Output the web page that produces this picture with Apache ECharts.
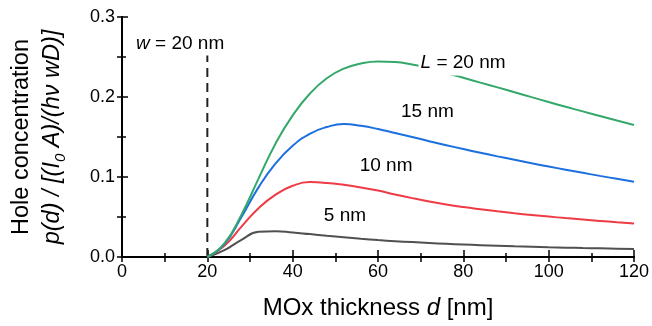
<!DOCTYPE html>
<html>
<head>
<meta charset="utf-8">
<script src="https://cdn.jsdelivr.net/npm/echarts@6/dist/echarts.min.js"></script>
<style>
  html, body { margin: 0; padding: 0; background: #ffffff; }
  #chart { width: 652px; height: 326px; }
</style>
</head>
<body>
<div id="chart"></div>
<script>
// MOx layer thickness d [nm]
const thickness = [20, 24, 28, 32, 36, 40, 44, 48, 52, 56, 60, 64, 68, 72, 76, 80, 84, 88, 92, 96, 100, 104, 108, 112, 116, 120];

// normalised hole concentration for each diffusion length L
const holeL20 = [0, 0.017, 0.053, 0.098, 0.142, 0.177, 0.204, 0.2235, 0.2355, 0.2420, 0.2445, 0.2438, 0.2405, 0.2357, 0.2300, 0.2240, 0.2180, 0.2120, 0.2060, 0.1998, 0.1937, 0.1878, 0.1820, 0.1763, 0.1706, 0.1650];
const holeL15 = [0, 0.016, 0.050, 0.087, 0.117, 0.139, 0.154, 0.1625, 0.1663, 0.1640, 0.1600, 0.1550, 0.1500, 0.1448, 0.1398, 0.1350, 0.1303, 0.1258, 0.1215, 0.1172, 0.1131, 0.1091, 0.1052, 0.1014, 0.0977, 0.0940];
const holeL10 = [0, 0.014, 0.038, 0.061, 0.078, 0.0890, 0.0936, 0.0926, 0.0902, 0.0870, 0.0830, 0.0782, 0.0736, 0.0694, 0.0657, 0.0625, 0.0597, 0.0571, 0.0547, 0.0525, 0.0505, 0.0486, 0.0468, 0.0451, 0.0435, 0.0420];
const holeL5  = [0, 0.0085, 0.0215, 0.0315, 0.0323, 0.0307, 0.0286, 0.0265, 0.0246, 0.0228, 0.0212, 0.0198, 0.0186, 0.0175, 0.0165, 0.0156, 0.0148, 0.0141, 0.0134, 0.0128, 0.0122, 0.0117, 0.0112, 0.0108, 0.0104, 0.0100];

// depletion width marker
const depletionWidth = 20;
const depletionTop = 0.252;

// curve labels: [d, value] anchor of each text
const curveLabelAt = {
  L20: [69.5, 0.242],
  L15: [65.4, 0.181],
  L10: [55.7, 0.1146],
  L5:  [47.3, 0.0521],
  w:   [3.3, 0.2668]
};

const FONT = '"Liberation Sans", Arial, Helvetica, sans-serif';
const pair = (ys) => thickness.map((d, i) => [d, ys[i]]);

function tag(coord, text, extra) {
  return {
    symbol: 'circle',
    symbolSize: 0,
    itemStyle: { color: 'rgba(0,0,0,0)' },
    data: [{ coord: coord }],
    silent: true,
    label: Object.assign({
      show: true,
      position: 'right',
      distance: 0,
      formatter: text,
      color: '#000',
      fontSize: 19,
      fontFamily: FONT,
      rich: {
        it: { fontStyle: 'italic', fontSize: 19, fontFamily: FONT, color: '#000' }
      }
    }, extra || {})
  };
}

function curve(name, ys, color, mark) {
  return {
    name: name,
    type: 'line',
    data: pair(ys),
    showSymbol: false,
    smooth: 0.5,
    lineStyle: { color: color, width: 2 },
    itemStyle: { color: color },
    markPoint: mark,
    z: 3
  };
}

const chart = echarts.init(document.getElementById('chart'), null, { renderer: 'canvas' });

const axisLine = { show: true, lineStyle: { color: '#000', width: 2 } };

chart.setOption({
  animation: false,
  backgroundColor: '#ffffff',
  grid: { left: 122, right: 18, top: 17, bottom: 69, containLabel: false, outerBoundsMode: 'none' },
  xAxis: [
    {
      type: 'value', min: 0, max: 120, interval: 20,
      position: 'bottom',
      axisLine: axisLine,
      axisTick: { inside: true, length: 7, lineStyle: { color: '#000', width: 1.5 } },
      minorTick: { show: true, splitNumber: 2, length: 4, lineStyle: { color: '#000', width: 1.5 } },
      splitLine: { show: false },
      axisLabel: { color: '#000', fontSize: 18, fontFamily: FONT, margin: 6 },
      name: '{n|MOx thickness }{i|d}{n| [nm]}',
      nameLocation: 'middle',
      nameGap: 39,
      nameTextStyle: {
        rich: {
          n: { fontSize: 24, fontFamily: FONT, color: '#000' },
          i: { fontSize: 24, fontFamily: FONT, color: '#000', fontStyle: 'italic' }
        }
      }
    },
    {
      type: 'value', min: 0, max: 120, interval: 10,
      position: 'top',
      axisLine: axisLine,
      axisTick: { inside: true, length: 5, lineStyle: { color: '#000', width: 1.5 } },
      axisLabel: { show: false },
      splitLine: { show: false }
    }
  ],
  yAxis: [
    {
      type: 'value', min: 0, max: 0.3, interval: 0.1,
      position: 'left',
      axisLine: axisLine,
      axisTick: { inside: true, length: 6, lineStyle: { color: '#000', width: 1.5 } },
      minorTick: { show: true, splitNumber: 2, length: 4, lineStyle: { color: '#000', width: 1.5 } },
      splitLine: { show: false },
      axisLabel: {
        color: '#000', fontSize: 18, fontFamily: FONT, margin: 7,
        formatter: (v) => v.toFixed(1)
      },
      name: '{a|Hole concentration}\n{i|p(d) / [(I}{s|0}{i| A)/(hν wD)]}',
      nameLocation: 'middle',
      nameRotate: 90,
      nameGap: 54,
      nameTextStyle: {
        lineHeight: 31,
        rich: {
          a: { fontSize: 23.5, fontFamily: FONT, color: '#000', lineHeight: 31 },
          i: { fontSize: 23.5, fontFamily: FONT, color: '#000', fontStyle: 'italic', lineHeight: 31 },
          s: { fontSize: 15, fontFamily: FONT, color: '#000', fontStyle: 'italic', lineHeight: 15, verticalAlign: 'bottom' }
        }
      }
    },
    {
      type: 'value', min: 0, max: 0.3, interval: 0.05,
      position: 'right',
      axisLine: axisLine,
      axisTick: { inside: true, length: 5, lineStyle: { color: '#000', width: 1.5 } },
      axisLabel: { show: false },
      splitLine: { show: false }
    }
  ],
  series: [
    {
      name: 'w',
      type: 'line',
      data: [[depletionWidth, 0], [depletionWidth, depletionTop]],
      showSymbol: false,
      lineStyle: { color: '#222', width: 2, type: [9, 6] },
      markPoint: tag(curveLabelAt.w, '{it|w} = 20 nm'),
      z: 2
    },
    curve('L = 5 nm', holeL5, '#505050', tag(curveLabelAt.L5, '5 nm')),
    curve('L = 10 nm', holeL10, '#ee3b45', tag(curveLabelAt.L10, '10 nm')),
    curve('L = 15 nm', holeL15, '#1c6fdf', tag(curveLabelAt.L15, '15 nm')),
    curve('L = 20 nm', holeL20, '#33a86a', tag(curveLabelAt.L20, '{it|L} = 20 nm', {
      backgroundColor: '#ffffff',
      padding: [2, 3, 3, 2]
    }))
  ]
});
</script>
</body>
</html>
